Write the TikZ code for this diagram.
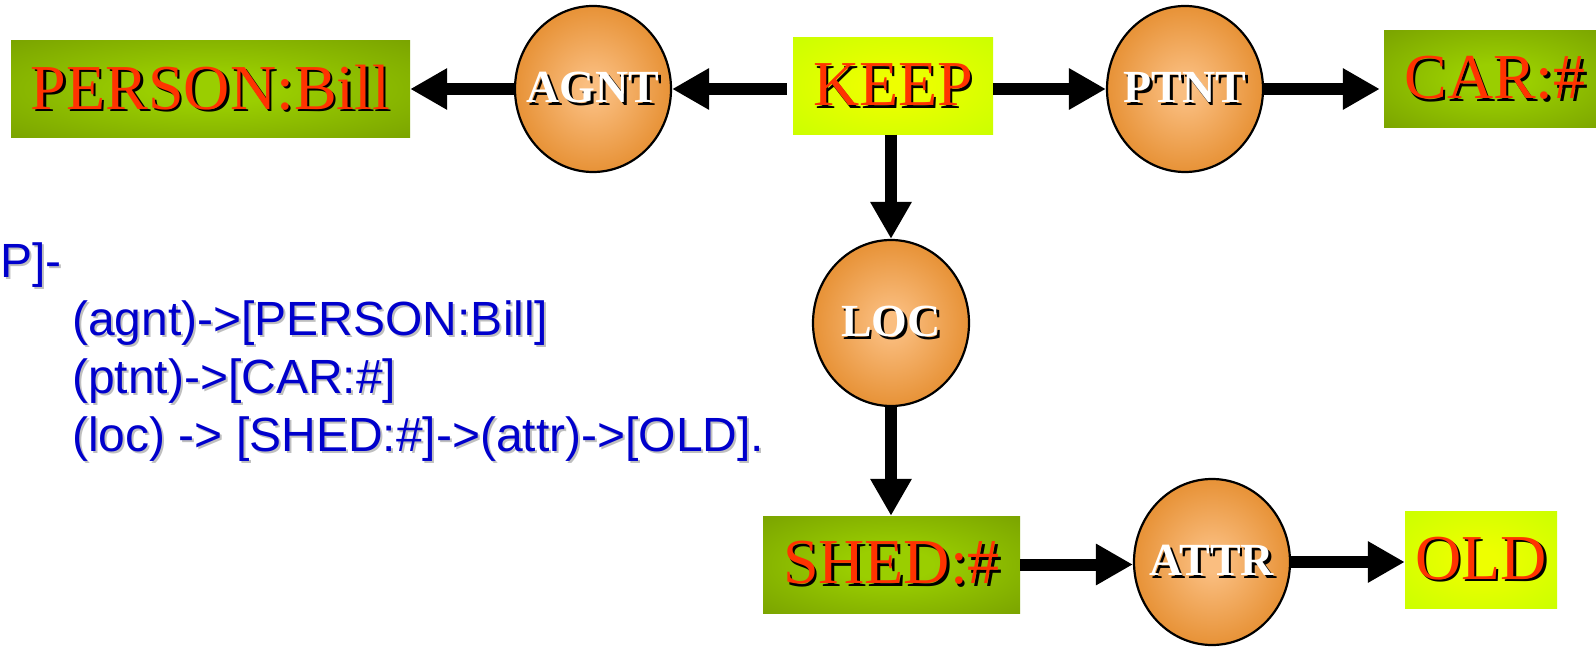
\documentclass[tikz,border=0pt]{standalone}
\usepackage{fontspec}
\setmainfont{Liberation Serif}
\newfontfamily\arialfont{Liberation Sans}
\usetikzlibrary{shapes.geometric,arrows.meta}

% palette
\definecolor{leafin}{RGB}{154,206,0}
\definecolor{leafout}{RGB}{106,142,0}
\definecolor{limein}{RGB}{238,255,0}
\definecolor{limeout}{RGB}{196,255,0}
\definecolor{orbin}{RGB}{250,190,128}
\definecolor{orbmid}{RGB}{232,148,58}
\definecolor{orbout}{RGB}{218,126,28}
\definecolor{labelred}{RGB}{255,51,0}
\definecolor{codeblue}{RGB}{0,0,204}

% soft glows for the concept boxes and relation circles
\pgfdeclareradialshading{leafglow}{\pgfpoint{0bp}{0bp}}{color(0bp)=(leafin); color(8bp)=(leafin); color(50bp)=(leafout); color(72bp)=(leafout)}
\pgfdeclareradialshading{limeglow}{\pgfpoint{0bp}{0bp}}{color(0bp)=(limein); color(5bp)=(limein); color(42bp)=(limeout); color(72bp)=(limeout)}
\pgfdeclareradialshading{orbglow}{\pgfpoint{0bp}{0bp}}{color(0bp)=(orbin); color(3bp)=(orbin); color(24bp)=(orbmid); color(44bp)=(orbout); color(50bp)=(orbout)}

% text with a drop shadow: fill colour, shadow colour, offset, text
\newcommand\castshadow[4]{\rlap{\kern#3\raisebox{-#3}{\color{#2}#4}}{\color{#1}#4}}

\tikzset{
  concept/.style={rectangle, inner sep=0pt, minimum height=97pt,
    font=\fontsize{64}{70}\selectfont},
  leafbox/.style={concept, shade, shading=leafglow},
  limebox/.style={concept, shade, shading=limeglow},
  relation/.style={ellipse, draw=black, line width=2.2pt, shade, shading=orbglow,
    minimum width=156pt, minimum height=166pt, inner sep=0pt,
    font=\fontsize{46}{50}\selectfont\bfseries},
  link/.style={line width=12pt, -{Triangle[length=37pt,width=39pt]}},
  code/.style={anchor=base west, inner sep=0pt,
    font=\arialfont\fontsize{48}{58}\selectfont}
}
\newcommand\conceptlabel[1]{\castshadow{labelred}{black}{2.5pt}{#1}}
% zero-width box so the circle keeps its own size
\newcommand\relationlabel[1]{\makebox[0pt]{\castshadow{white}{black}{2.5pt}{#1}}}
\newcommand\codelabel[1]{\castshadow{codeblue}{gray!50}{2pt}{#1}}

\begin{document}
\begin{tikzpicture}[x=1pt, y=-1pt]
  \useasboundingbox (0,0) rectangle (1596,647);
  \fill[white] (0,0) rectangle (1596,647);
  \clip (0,0) rectangle (1596,647);

  % concepts
  \node[leafbox, minimum width=399pt] (person) at (210.5,89) {\conceptlabel{PERSON:Bill}};
  \node[limebox, minimum width=200pt] (keep) at (893,86) {\conceptlabel{KEEP}};
  \node[leafbox, minimum width=222pt] (car) at (1495,79.5) {\conceptlabel{CAR:\#}};
  \node[leafbox, minimum width=257pt] (shed) at (891.5,564.5) {\conceptlabel{SHED:\#}};
  \node[limebox, minimum width=152pt] (old) at (1481,559.5) {\conceptlabel{OLD}};

  % relations
  \node[relation] (agnt) at (593,89) {\relationlabel{AGNT}};
  \node[relation] (ptnt) at (1185,89) {\relationlabel{PTNT}};
  \node[relation] (loc) at (891,323) {\relationlabel{LOC}};
  \node[relation] (attr) at (1212,562) {\relationlabel{ATTR}};

  % arcs of the graph
  \draw[link, shorten <=6pt] (keep.west |- agnt.east) -- (agnt.east);
  \draw[link] (agnt.west) -- (person.east |- agnt.west);
  \draw[link] (keep.east |- ptnt.west) -- (ptnt.west);
  \draw[link, shorten >=4pt] (ptnt.east) -- (ptnt.east -| car.west);
  \draw[link] (loc.north |- keep.south) -- (loc.north);
  \draw[link] (loc.south) -- (loc.south |- shed.north);
  \draw[link] (shed.east) -- (shed.east -| attr.west);
  \draw[link] (attr.east) -- (attr.east -| old.west);

  % linear form
  \node[code] (line1) at (0,277) {\codelabel{P]-}};
  \node[code] (line2) at (72,335) {\codelabel{(agnt)->[PERSON:Bill]}};
  \node[code] (line3) at (72,393) {\codelabel{(ptnt)->[CAR:\#]}};
  \node[code] (line4) at (72,451) {\codelabel{(loc) -> [SHED:\#]->(attr)->[OLD].}};
\end{tikzpicture}
\end{document}
